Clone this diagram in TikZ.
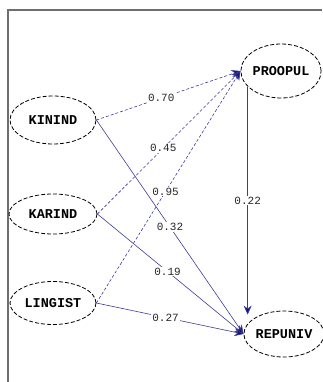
\documentclass[tikz,border=0pt]{standalone}
\usepackage{fontspec}
\setmonofont{Liberation Mono}
\usetikzlibrary{shapes.geometric,arrows.meta}
\definecolor{edgeblue}{RGB}{60,60,150}
\definecolor{headblue}{RGB}{20,20,120}
\definecolor{frame}{RGB}{110,110,110}
\tikzset{
  var/.style={ellipse,draw=black,line width=0.8pt,dash pattern=on 4pt off 2pt,
    inner sep=0pt,font=\ttfamily\bfseries\fontsize{13.5}{13.5}\selectfont},
  path/.style={draw=edgeblue,line width=0.6pt,-{Stealth[length=9pt,width=8pt,fill=headblue]}},
  dpath/.style={path,dash pattern=on 3pt off 2pt},
  coef/.style={fill=white,inner sep=1pt,font=\ttfamily\fontsize{11}{11}\selectfont,text=black!85}
}
\begin{document}
\begin{tikzpicture}[x=1pt,y=-1pt]
\useasboundingbox (0,0) rectangle (322,382);
\draw[frame,line width=1.5pt] (8,382) coordinate (fb) -- (8,10) coordinate (fc) -- (322,10) coordinate (fr);
\node[var,minimum width=86pt,minimum height=48pt] (KININD) at (53,120) {KININD};
\node[var,minimum width=88pt,minimum height=40pt] (KARIND) at (53,214) {KARIND};
\node[var,minimum width=86pt,minimum height=43pt] (LINGIST) at (53,303) {LINGIST};
\node[var,minimum width=80pt,minimum height=54pt] (PROOPUL) at (281,71) {PROOPUL};
\node[var,minimum width=78pt,minimum height=46pt] (REPUNIV) at (284,334) {REPUNIV};
\draw[dpath] (KININD.east) -- node[coef,pos=0.45] {0.70} (PROOPUL.west);
\draw[dpath] (KARIND.east) -- node[coef,pos=0.46] {0.45} (PROOPUL.west);
\draw[dpath] (LINGIST.east) -- node[coef,pos=0.48] {0.95} (PROOPUL.west);
\draw[path] (KININD.east) -- node[coef,pos=0.5] {0.32} (REPUNIV.west);
\draw[path] (KARIND.east) -- node[coef,pos=0.48] {0.19} (REPUNIV.west);
\draw[path] (LINGIST.east) -- node[coef,pos=0.47] {0.27} (REPUNIV.west);
\draw[path] (PROOPUL.205) -- node[coef,pos=0.5] {0.22} ([yshift=-4pt]PROOPUL.205 |- REPUNIV.north);
\end{tikzpicture}
\end{document}
